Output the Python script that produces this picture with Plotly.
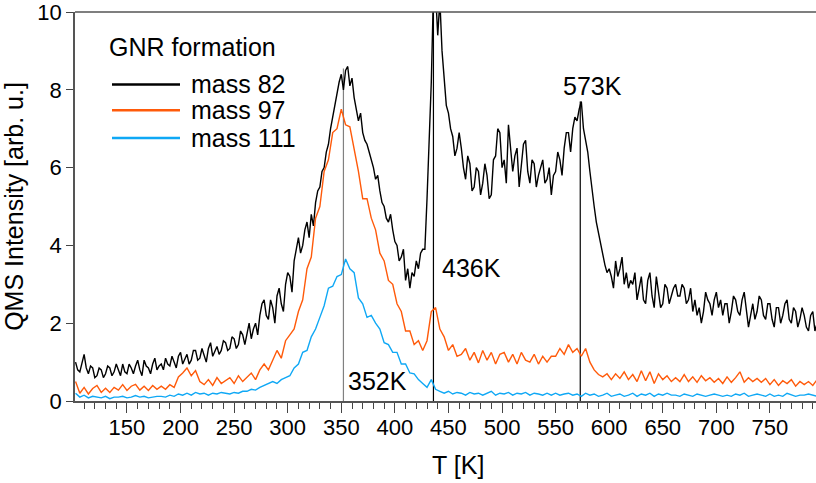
import plotly.graph_objects as go

# Sampling temperatures (K)
T_fine = list(range(102, 796, 2))     # mass 82 sampling
T = list(range(102, 798, 4))          # mass 97 / mass 111 sampling

mass82 = [
    1.0, 0.8, 0.75, 1.0, 1.2, 0.85, 0.7, 0.9, 0.85, 0.6, 0.65, 0.85, 0.8, 0.6, 0.7, 0.9, 0.85, 0.65, 0.75, 0.95,
    0.8, 0.65, 0.95, 0.75, 0.7, 0.95, 0.85, 0.7, 0.9, 1.05, 0.8, 0.65, 1.05, 0.9, 0.85, 0.7, 0.95, 1.1, 0.8, 0.9,
    0.95, 0.8, 1.1, 0.95, 0.9, 1.15, 1.0, 0.85, 1.15, 1.25, 0.95, 1.1, 1.2, 0.95, 1.05, 1.3, 1.3, 1.05, 1.1, 1.35,
    1.2, 1.0, 1.35, 1.5, 1.15, 1.3, 1.4, 1.2, 1.3, 1.55, 1.5, 1.3, 1.35, 1.65, 1.6, 1.35, 1.45, 1.8, 1.7, 1.45,
    1.75, 2.0, 1.6, 1.85, 2.0, 1.7, 2.2, 2.5, 2.6, 2.2, 2.1, 2.6, 2.4, 2.0, 2.7, 2.9, 2.5, 2.3, 3.0, 3.3,
    3.2, 2.8, 3.6, 3.9, 4.2, 3.8, 4.0, 4.4, 4.6, 4.2, 4.8, 4.5, 5.1, 5.4, 5.5, 5.9, 6.0, 6.4, 6.6, 7.0,
    7.3, 7.7, 7.9, 8.2, 8.4, 8.0, 8.5, 8.6, 8.1, 8.3, 7.8, 7.5, 7.2, 7.4, 6.9, 6.7, 6.6, 6.4, 6.2, 6.0,
    5.7, 5.8, 5.4, 5.1, 5.0, 4.7, 4.6, 4.8, 4.4, 4.1, 4.0, 3.6, 3.7, 3.9, 3.1, 3.4, 2.9, 3.3, 3.2, 3.6,
    3.4, 3.8, 3.9, 3.9, 5.2, 6.6, 8.2, 10.5, 10.5, 9.4, 10.3, 9.0, 8.3, 7.6, 7.4, 7.0, 6.8, 6.3, 6.5, 6.9,
    6.5, 6.0, 5.7, 6.3, 6.1, 5.4, 5.5, 6.0, 5.9, 5.3, 5.6, 6.1, 5.8, 5.2, 5.3, 6.2, 6.3, 7.0, 6.9, 6.0,
    6.2, 5.6, 7.1, 6.4, 5.9, 6.3, 6.5, 5.5, 6.0, 6.6, 6.7, 5.9, 5.6, 6.2, 6.1, 5.5, 5.8, 6.0, 6.2, 5.6,
    5.7, 6.0, 5.3, 5.8, 5.9, 6.4, 6.2, 5.8, 6.5, 6.9, 6.9, 6.4, 7.0, 7.3, 7.2, 7.5, 7.7, 7.0, 6.7, 6.4,
    5.9, 5.4, 5.0, 4.6, 4.3, 4.0, 3.8, 3.5, 3.3, 3.4, 3.2, 2.9, 3.6, 3.2, 3.4, 3.7, 3.0, 3.3, 2.9, 3.1,
    3.0, 3.3, 2.6, 2.9, 3.2, 2.6, 2.5, 3.1, 3.3, 2.7, 2.4, 3.2, 2.8, 2.4, 2.5, 3.0, 2.9, 2.5, 2.7, 2.9,
    3.0, 2.7, 2.7, 3.0, 2.9, 2.5, 2.6, 2.9, 2.3, 2.6, 2.2, 2.4, 2.0, 2.3, 2.8, 2.6, 2.5, 2.2, 2.6, 2.8,
    2.4, 2.6, 2.2, 2.5, 2.5, 2.0, 2.3, 2.7, 2.6, 2.3, 2.2, 2.6, 2.8, 2.4, 1.9, 2.2, 2.5, 2.1, 2.3, 2.7,
    2.6, 2.2, 2.1, 2.5, 2.5, 2.1, 1.9, 2.4, 2.4, 2.0, 2.2, 2.5, 2.6, 2.1, 2.0, 2.4, 2.3, 1.9, 2.1, 2.4,
    2.2, 1.9, 1.8, 2.2, 2.3, 1.8, 2.0,
]

mass97 = [
    0.5, 0.2, 0.35, 0.18, 0.32, 0.4, 0.22, 0.33, 0.22, 0.35,
    0.28, 0.42, 0.27, 0.38, 0.43, 0.28, 0.38, 0.27, 0.4, 0.3,
    0.38, 0.3, 0.42, 0.35, 0.62, 0.72, 0.85, 0.65, 0.78, 0.5,
    0.42, 0.55, 0.4, 0.6, 0.45, 0.52, 0.6, 0.45, 0.65, 0.5,
    0.6, 0.72, 0.55, 0.8, 0.95, 0.8, 1.05, 1.3, 1.1, 1.55,
    1.7, 1.85, 2.3, 2.6, 3.4, 3.7, 4.7, 5.0, 5.9, 6.2,
    6.9, 7.0, 7.5, 7.1, 7.05, 6.5, 5.9, 5.2, 5.2, 4.7,
    4.4, 3.8, 3.6, 3.1, 3.0, 2.5, 2.3, 1.8, 1.8, 1.45,
    1.55, 1.3, 1.55, 2.3, 2.4, 1.85, 1.65, 1.3, 1.45, 1.15,
    1.2, 1.35, 1.05, 1.25, 0.98, 1.3, 1.05, 1.25, 0.95, 1.2,
    1.25, 1.0, 1.2, 0.95, 1.25, 1.05, 1.0, 1.2, 0.95, 1.15,
    1.0, 1.15, 1.15, 1.35, 1.2, 1.45, 1.25, 1.35, 1.15, 1.35,
    1.0, 0.8, 0.68, 0.62, 0.7, 0.55, 0.7, 0.58, 0.75, 0.55,
    0.68, 0.5, 0.78, 0.52, 0.75, 0.45, 0.7, 0.55, 0.65, 0.5,
    0.6, 0.5, 0.68, 0.5, 0.62, 0.48, 0.65, 0.52, 0.6, 0.48,
    0.58, 0.45, 0.62, 0.48, 0.6, 0.75, 0.48, 0.6, 0.5, 0.58,
    0.48, 0.58, 0.42, 0.55, 0.4, 0.52, 0.45, 0.55, 0.38, 0.5,
    0.42, 0.5, 0.4, 0.55,
]

mass111 = [
    0.2, 0.1, 0.15, 0.08, 0.12, 0.1, 0.08, 0.12, 0.06, 0.1,
    0.1, 0.12, 0.08, 0.1, 0.14, 0.1, 0.12, 0.08, 0.1, 0.12,
    0.12, 0.1, 0.15, 0.12, 0.18, 0.15, 0.2, 0.15, 0.22, 0.18,
    0.2, 0.15, 0.2, 0.18, 0.22, 0.2, 0.18, 0.22, 0.2, 0.25,
    0.25, 0.3, 0.28, 0.35, 0.4, 0.45, 0.5, 0.45, 0.55, 0.6,
    0.65, 0.85, 0.95, 1.25, 1.3, 1.65, 1.85, 2.15, 2.45, 2.9,
    2.95, 3.2, 3.25, 3.65, 3.4, 3.3, 2.65, 2.5, 2.15, 2.2,
    2.0, 1.85, 1.5, 1.45, 1.25, 1.25, 0.95, 0.95, 0.72, 0.7,
    0.55, 0.45, 0.35, 0.55, 0.3, 0.25, 0.2, 0.25, 0.18, 0.22,
    0.2, 0.15, 0.22, 0.18, 0.2, 0.15, 0.2, 0.25, 0.15, 0.2,
    0.18, 0.22, 0.15, 0.2, 0.18, 0.22, 0.15, 0.2, 0.18, 0.15,
    0.2, 0.15, 0.2, 0.15, 0.18, 0.2, 0.15, 0.18, 0.12, 0.2,
    0.15, 0.18, 0.12, 0.15, 0.2, 0.12, 0.15, 0.18, 0.12, 0.15,
    0.2, 0.12, 0.18, 0.15, 0.2, 0.12, 0.18, 0.15, 0.2, 0.15,
    0.15, 0.12, 0.18, 0.15, 0.12, 0.18, 0.15, 0.12, 0.15, 0.18,
    0.15, 0.12, 0.15, 0.12, 0.18, 0.15, 0.2, 0.12, 0.15, 0.18,
    0.15, 0.12, 0.18, 0.12, 0.15, 0.12, 0.2, 0.15, 0.12, 0.15,
    0.15, 0.18, 0.15, 0.12,
]

series_names = ["mass 82", "mass 97", "mass 111"]
series_colors = ["#000000", "#ff5a0a", "#0fa8f5"]

peak_T = [352, 436, 573]
peak_I = [8.55, 10.0, 7.7]
peak_labels = ["352K", "436K", "573K"]
peak_line_colors = ["#808080", "#000000", "#000000"]

FONT = "Liberation Sans, Arial, sans-serif"

fig = go.Figure()
for name, xs, ys, col in zip(series_names, [T_fine, T, T], [mass82, mass97, mass111], series_colors):
    fig.add_trace(go.Scatter(x=xs, y=ys, mode="lines", name=name,
                             line=dict(color=col, width=1.4), showlegend=False))

# vertical peak markers
for t, h, c in zip(peak_T, peak_I, peak_line_colors):
    fig.add_shape(type="line", x0=t, x1=t, y0=0, y1=h, xref="x", yref="y",
                  line=dict(color=c, width=1.2), layer="below")

# peak labels
label_pos = [(0.51, "left", 3), (3.43, "left", 7), (8.1, "center", 12)]
for t, lab, (yv, anc, dx) in zip(peak_T, peak_labels, label_pos):
    fig.add_annotation(x=t, y=yv, text=lab, showarrow=False, xref="x", yref="y",
                       xanchor=anc, yanchor="middle", xshift=dx,
                       font=dict(family=FONT, size=25, color="#000"))

# manual legend
W, H = 816, 483
L, R, TOP, B = 75, 0, 9, 82
pw, ph = W - L - R, H - TOP - B
def px(x):
    return (x - L) / pw
def py(y):
    return 1 - (y - TOP) / ph

fig.add_annotation(x=px(107), y=py(44), xref="paper", yref="paper", text="GNR formation",
                   showarrow=False, xanchor="left", yanchor="middle",
                   font=dict(family=FONT, size=25, color="#000"))
for i, (name, col) in enumerate(zip(series_names, series_colors)):
    yy = [82, 108, 136][i]
    fig.add_shape(type="line", xref="paper", yref="paper", x0=px(112), x1=px(180),
                  y0=py(yy), y1=py(yy), line=dict(color=col, width=2.5))
    fig.add_annotation(x=px(189), y=py(yy), xref="paper", yref="paper", text=name,
                       showarrow=False, xanchor="left", yanchor="middle",
                       font=dict(family=FONT, size=25, color="#000"))

# top frame line
fig.add_shape(type="line", xref="paper", yref="paper", x0=0, x1=1, y0=1, y1=1,
              line=dict(color="#555", width=1.5))

# x title
fig.add_annotation(x=px(458), y=py(465), xref="paper", yref="paper", text="T [K]",
                   showarrow=False, xanchor="center", yanchor="middle",
                   font=dict(family=FONT, size=25, color="#000"))

fig.update_layout(
    width=W, height=H,
    margin=dict(l=L, r=R, t=TOP, b=B),
    paper_bgcolor="white", plot_bgcolor="white",
    font=dict(family=FONT, color="#000"),
    xaxis=dict(range=[101.5, 793], tick0=0, dtick=50, ticks="outside", ticklen=10,
               tickwidth=1, tickcolor="#444", showline=True, linecolor="#555", linewidth=1.5,
               showgrid=False, zeroline=False, tickfont=dict(family=FONT, size=22, color="#000"),
               ticklabeloverflow="allow", ticklabelstandoff=-4,
               minor=dict(dtick=10, tick0=0, ticks="outside", ticklen=6, tickcolor="#444",
                          showgrid=False)),
    yaxis=dict(range=[0, 10], tick0=0, dtick=2, ticks="outside", ticklen=7, tickwidth=1,
               tickcolor="#444", showline=True, linecolor="#555", linewidth=1.5,
               showgrid=False, zeroline=False, tickfont=dict(family=FONT, size=22, color="#000"),
               ticklabeloverflow="allow",
               title=dict(text="QMS Intensity [arb. u.]", standoff=10,
                          font=dict(family=FONT, size=25, color="#000"))),
)

fig.write_html("out.html")
